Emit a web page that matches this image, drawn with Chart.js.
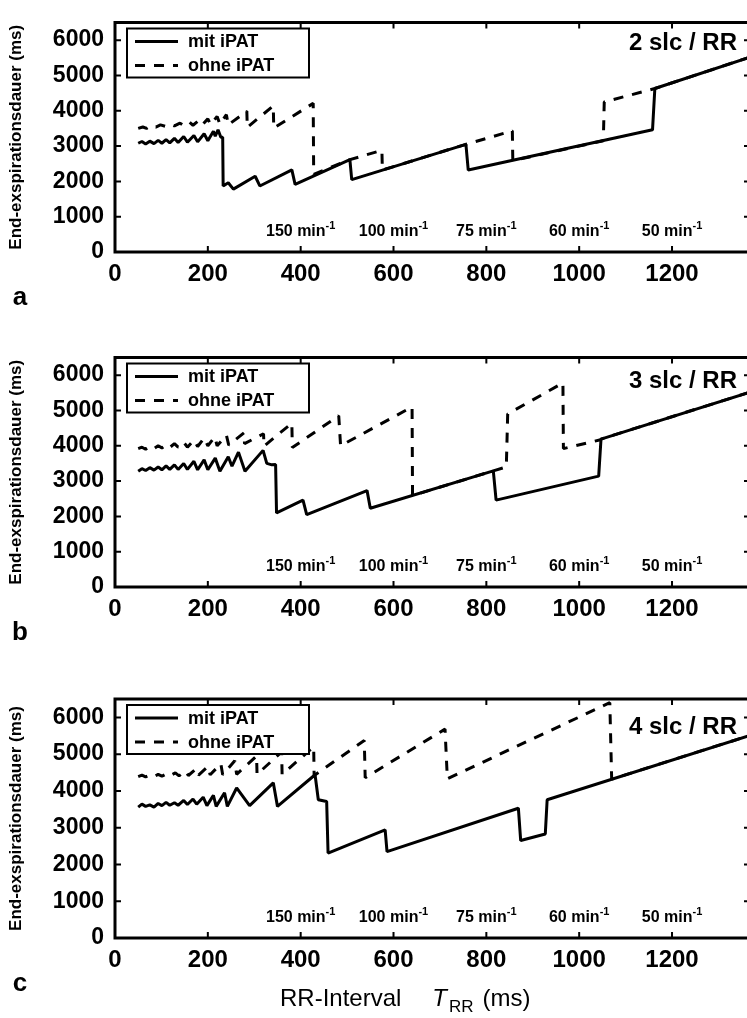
<!DOCTYPE html>
<html>
<head>
<meta charset="utf-8">
<script src="https://cdn.jsdelivr.net/npm/chart.js@4.4.1/dist/chart.umd.min.js"></script>
<style>
  html, body { margin: 0; padding: 0; background: #fff; overflow: hidden; }
  body { width: 747px; height: 1018px; position: relative; }
  canvas { position: absolute; left: 0; }
</style>
</head>
<body>
<canvas id="panel-a" width="752" height="335" style="top:0"></canvas>
<canvas id="panel-b" width="752" height="335" style="top:335px"></canvas>
<canvas id="panel-c" width="752" height="348" style="top:670px"></canvas>
<script>
// --- Achsen / Beschriftungen ---
const X_TICKS = [0, 200, 400, 600, 800, 1000, 1200];
const Y_TICKS = [0, 1000, 2000, 3000, 4000, 5000, 6000];
const X_MAX = 1368;
const Y_MAX = 6500;
const HEART_RATES = [150, 100, 75, 60, 50];          // min^-1, sitzt bei 60000/HR ms
const SERIES_NAMES = ['mit iPAT', 'ohne iPAT'];
const SLICE_LABELS = ['2 slc / RR', '3 slc / RR', '4 slc / RR'];
const PANEL_LETTERS = ['a', 'b', 'c'];
const Y_TITLE = 'End-exspirationsdauer (ms)';

// --- Messkurven [T_RR (ms), Dauer (ms)] ---
const mitA = [[50,3080],[58,3130],[66,3060],[75,3140],[84,3070],[93,3160],[101,3080],[110,3180],[118,3090],
  [128,3220],[136,3100],[148,3270],[156,3110],[170,3300],[178,3120],[192,3350],[200,3150],[212,3420],[216,3280],
  [222,3460],[228,3250],[232,3250],[233,1870],[244,1960],[255,1780],[302,2145],[312,1870],[381,2325],[388,1915],
  [506,2615],[510,2050],[756,3050],[761,2320],[1158,3460],[1163,4630],[1368,5520]];
const ohneA = [[50,3500],[60,3540],[68,3500],[78,3580],[88,3540],[98,3600],[108,3560],[118,3620],[128,3570],
  [140,3650],[148,3580],[160,3680],[168,3590],[180,3720],[188,3600],[200,3770],[206,3610],[220,3840],[226,3620],
  [240,3890],[244,3600],[284,3990],[285,3530],[341,4140],[342,3510],[427,4210],[428,2200],[506,2615],[575,2880],
  [576,2320],[756,3050],[856,3430],[857,2590],[1052,3150],[1054,4250],[1163,4630],[1368,5520]];

const mitB = [[50,3280],[58,3350],[66,3300],[75,3380],[84,3310],[93,3400],[101,3320],[110,3430],[118,3330],
  [128,3460],[136,3330],[148,3500],[156,3330],[170,3560],[178,3320],[192,3600],[200,3320],[216,3650],[226,3280],
  [244,3690],[252,3420],[266,3820],[280,3280],[319,3870],[327,3500],[338,3460],[346,3470],[348,2100],[405,2460],
  [413,2050],[543,2730],[550,2230],[815,3290],[821,2460],[1042,3140],[1047,4190],[1368,5520]];
const ohneB = [[50,3920],[58,3960],[66,3900],[75,3980],[84,3920],[93,4000],[101,3940],[110,4020],[118,3950],
  [128,4060],[136,3960],[148,4100],[156,3960],[170,4160],[178,3980],[192,4220],[200,4000],[215,4250],[220,4000],
  [240,4300],[245,4020],[278,4370],[279,4060],[320,4340],[321,3990],[381,4640],[382,3950],[482,4850],[486,4000],
  [640,5100],[641,2590],[815,3290],[843,3400],[846,4900],[965,5780],[966,3920],[1046,4170],[1047,4190],[1368,5520]];

const mitC = [[50,3560],[58,3640],[66,3580],[75,3620],[84,3560],[93,3660],[101,3600],[110,3690],[118,3610],
  [128,3680],[136,3610],[148,3740],[156,3630],[168,3780],[176,3640],[190,3830],[198,3600],[212,3880],[218,3580],
  [236,3950],[242,3580],[262,4080],[290,3600],[341,4220],[350,3580],[431,4440],[438,3760],[456,3710],[459,2310],
  [582,2940],[586,2350],[869,3530],[874,2650],[927,2830],[931,3760],[1368,5510]];
const ohneC = [[50,4390],[58,4430],[66,4380],[75,4430],[84,4390],[93,4450],[101,4400],[110,4460],[118,4410],
  [130,4490],[138,4410],[152,4540],[158,4420],[175,4600],[180,4430],[200,4660],[205,4440],[228,4740],[232,4440],
  [258,4820],[262,4450],[305,4950],[306,4450],[359,5060],[360,4450],[428,5200],[429,4420],[537,5370],[539,4360],
  [711,5680],[716,4330],[1066,6400],[1070,4320],[1368,5510]];

const FONT = "'Liberation Sans', Arial, Helvetica, sans-serif";
const toPoints = (arr) => arr.map(([x, y]) => ({ x, y }));
const plainNumber = (v) => String(v);

// Rahmen, Innen-Ticks, Legende, Herzfrequenz-Marken usw.
const panelDecor = {
  id: 'panelDecor',
  afterDraw(chart, args, opts) {
    const { ctx } = chart;
    const { left, right, top, bottom } = chart.chartArea;
    const x = chart.scales.x, y = chart.scales.y;
    ctx.save();
    ctx.strokeStyle = '#000';
    ctx.fillStyle = '#000';

    ctx.lineWidth = 3;
    ctx.strokeRect(left, top, right - left, bottom - top);

    ctx.lineWidth = 2;
    ctx.beginPath();
    x.ticks.forEach(t => {
      const px = x.getPixelForValue(t.value);
      ctx.moveTo(px, bottom); ctx.lineTo(px, bottom - 6);
      ctx.moveTo(px, top); ctx.lineTo(px, top + 6);
    });
    y.ticks.forEach(t => {
      const py = y.getPixelForValue(t.value);
      ctx.moveTo(left, py); ctx.lineTo(left + 6, py);
      ctx.moveTo(right, py); ctx.lineTo(right - 6, py);
    });
    ctx.stroke();

    // Herzfrequenzen
    ctx.textAlign = 'left';
    ctx.textBaseline = 'alphabetic';
    HEART_RATES.forEach(hr => {
      const main = hr + ' min';
      ctx.font = `bold 16px ${FONT}`;
      const wMain = ctx.measureText(main).width;
      ctx.font = `bold 11px ${FONT}`;
      const wSup = ctx.measureText('-1').width;
      const x0 = x.getPixelForValue(60000 / hr) - (wMain + wSup) / 2;
      const base = bottom - 16;
      ctx.font = `bold 16px ${FONT}`;
      ctx.fillText(main, x0, base);
      ctx.font = `bold 11px ${FONT}`;
      ctx.fillText('-1', x0 + wMain, base - 7);
    });

    // Legende
    const bx = left + 12, by = top + 6, bw = 182, bh = 49;
    ctx.fillStyle = '#fff';
    ctx.fillRect(bx, by, bw, bh);
    ctx.lineWidth = 2;
    ctx.strokeRect(bx, by, bw, bh);
    ctx.fillStyle = '#000';
    chart.data.datasets.forEach((ds, i) => {
      const ry = by + 13 + i * 24;
      ctx.setLineDash(ds.borderDash || []);
      ctx.lineWidth = ds.borderWidth;
      ctx.beginPath();
      ctx.moveTo(bx + 8, ry); ctx.lineTo(bx + 51, ry);
      ctx.stroke();
      ctx.setLineDash([]);
      ctx.font = `bold 18px ${FONT}`;
      ctx.textBaseline = 'middle';
      ctx.fillText(ds.label, bx + 61, ry + 1);
    });

    // Schichten pro RR
    ctx.font = `bold 24px ${FONT}`;
    ctx.textAlign = 'right';
    ctx.textBaseline = 'middle';
    ctx.fillText(opts.slice, right - 13, top + opts.sliceDy);

    // Panel-Buchstabe
    ctx.font = `bold 26px ${FONT}`;
    ctx.textAlign = 'center';
    ctx.fillText(opts.letter, 20, bottom + 46);

    // x-Achsentitel nur unten
    if (opts.xTitle) {
      const base = bottom + 68;
      let cx = 280;
      ctx.textAlign = 'left';
      ctx.textBaseline = 'alphabetic';
      ctx.font = `24px ${FONT}`;
      ctx.fillText('RR-Interval', cx, base);
      cx += ctx.measureText('RR-Interval').width + 31;
      ctx.font = `italic 24px ${FONT}`;
      ctx.fillText('T', cx, base);
      cx += ctx.measureText('T').width + 2;
      ctx.font = `17px ${FONT}`;
      ctx.fillText('RR', cx, base + 6);
      cx += ctx.measureText('RR').width + 9;
      ctx.font = `24px ${FONT}`;
      ctx.fillText('(ms)', cx, base);
    }
    ctx.restore();
  }
};

function renderPanel(canvasId, mit, ohne, idx, padTop, padBottom, sliceDy, xTitle) {
  const canvas = document.getElementById(canvasId);
  return new Chart(canvas, {
    type: 'line',
    data: {
      datasets: [
        { label: SERIES_NAMES[0], data: toPoints(mit), borderColor: '#000', borderWidth: 3,
          borderDash: [], pointRadius: 0, fill: false, tension: 0, borderJoinStyle: 'bevel' },
        { label: SERIES_NAMES[1], data: toPoints(ohne), borderColor: '#000', borderWidth: 3,
          borderDash: [10, 9], pointRadius: 0, fill: false, tension: 0, borderJoinStyle: 'bevel' }
      ]
    },
    options: {
      responsive: false,
      animation: false,
      events: [],
      layout: { padding: { top: padTop, right: 2, bottom: padBottom, left: 0 } },
      plugins: {
        legend: { display: false },
        tooltip: { enabled: false },
        panelDecor: { slice: SLICE_LABELS[idx], letter: PANEL_LETTERS[idx], sliceDy, xTitle }
      },
      scales: {
        x: {
          type: 'linear', min: 0, max: X_MAX,
          grid: { display: false, drawTicks: false },
          border: { display: false },
          afterBuildTicks: (s) => { s.ticks = X_TICKS.map(v => ({ value: v })); },
          afterFit: (s) => { s.height = 40; },
          ticks: { color: '#000', autoSkip: false, maxRotation: 0, padding: 10, callback: plainNumber,
                   font: { family: FONT, size: 24, weight: 'bold', lineHeight: 1 } }
        },
        y: {
          type: 'linear', min: 0, max: Y_MAX,
          grid: { display: false, drawTicks: false },
          border: { display: false },
          afterBuildTicks: (s) => { s.ticks = Y_TICKS.map(v => ({ value: v })); },
          afterFit: (s) => { s.width = 115; },
          ticks: { color: '#000', padding: 11, callback: plainNumber,
                   font: { family: FONT, size: 23, weight: 'bold', lineHeight: 1 } },
          title: { display: true, text: Y_TITLE, color: '#000', padding: { top: 6, bottom: 0 },
                   font: { family: FONT, size: 17, weight: 'bold' } }
        }
      }
    },
    plugins: [panelDecor]
  });
}

renderPanel('panel-a', mitA, ohneA, 0, 14, 43, 21, false);
renderPanel('panel-b', mitB, ohneB, 1, 14, 43, 24, false);
renderPanel('panel-c', mitC, ohneC, 2, 29, 40, 28, true);
</script>
</body>
</html>
